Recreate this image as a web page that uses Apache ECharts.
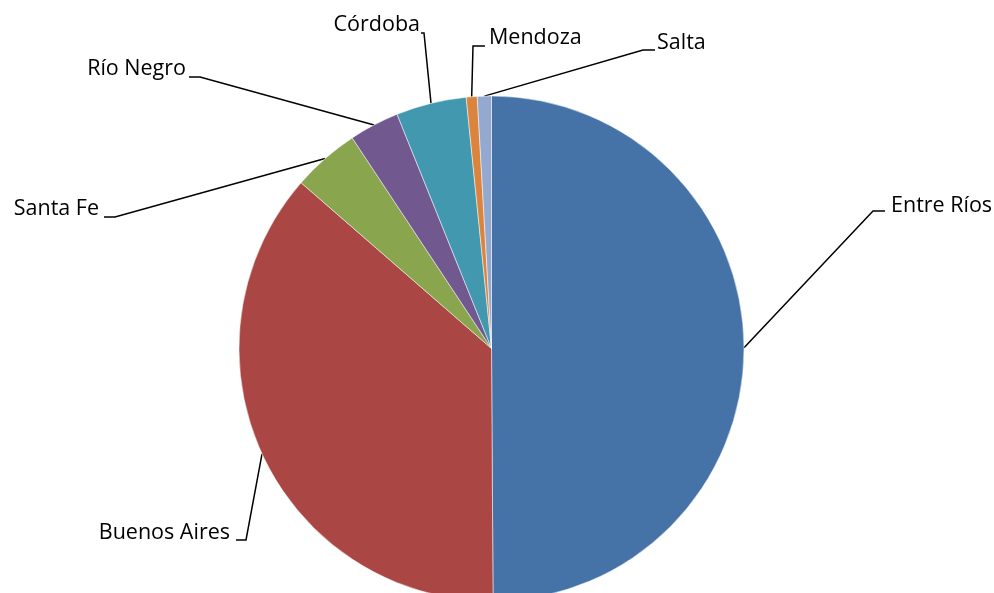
<!DOCTYPE html>
<html><head><meta charset="utf-8">
<script src="https://cdn.jsdelivr.net/npm/echarts@6/dist/echarts.min.js"></script>
<style>html,body{margin:0;padding:0;background:#fff}#c{width:994px;height:593px}</style>
</head><body><div id="c"></div>
<script>
const categories = ['Entre Ríos', 'Buenos Aires', 'Santa Fe', 'Río Negro', 'Córdoba', 'Mendoza', 'Salta'];
const values = [49.9, 36.5, 4.3, 3.2, 4.5, 0.7, 0.9];
const colors = ['#4572A7', '#AA4643', '#89A54E', '#71588F', '#4198AF', '#DB843D', '#93A9CF'];

// Layout of the leader lines and label anchors (pixels)
const labelGuides = [
  { knee: [873, 211], end: [885, 211], text: [891, 206],   align: 'left' },
  { knee: [246, 540], end: [236, 540], text: [230, 532.5], align: 'right' },
  { knee: [115, 217], end: [104, 217], text: [99, 209],    align: 'right' },
  { knee: [200, 77],  end: [189, 77],  text: [186, 69],    align: 'right' },
  { knee: [424, 33],  end: [421, 33],  text: [420, 25],    align: 'right' },
  { knee: [473, 46],  end: [485, 46],  text: [489, 37.5],  align: 'left' },
  { knee: [643, 50],  end: [655, 50],  text: [657, 42.5],  align: 'left' }
];

const CX = 491.5, CY = 348.5, R = 252.5;
const total = values.reduce((a, b) => a + b, 0);
function edgePoint(i) {
  let acc = 0;
  for (let k = 0; k < i; k++) acc += values[k];
  const mid = (acc + values[i] / 2) / total * 2 * Math.PI;
  return [CX + R * Math.sin(mid), CY - R * Math.cos(mid)];
}

const chart = echarts.init(document.getElementById('c'), null, { renderer: 'canvas' });
chart.setOption({
  animation: false,
  backgroundColor: '#ffffff',
  series: [{
    type: 'pie',
    center: [CX, CY],
    radius: R,
    startAngle: 90,
    clockwise: true,
    avoidLabelOverlap: false,
    silent: true,
    itemStyle: { borderColor: '#ffffff', borderWidth: 0.5 },
    label: {
      show: true,
      position: 'outside',
      color: '#000000',
      fontFamily: 'Open Sans',
      fontSize: 21.5
    },
    labelLine: {
      show: true,
      smooth: false,
      lineStyle: { color: '#000000', width: 1.5 }
    },
    labelLayout: function (params) {
      const g = labelGuides[params.dataIndex];
      const p0 = edgePoint(params.dataIndex);
      return {
        x: g.text[0], y: g.text[1],
        align: g.align, verticalAlign: 'middle',
        labelLinePoints: [p0, g.knee, g.end]
      };
    },
    data: categories.map((name, i) => ({
      name: name,
      value: values[i],
      itemStyle: { color: colors[i] }
    }))
  }]
});
</script>
</body></html>
